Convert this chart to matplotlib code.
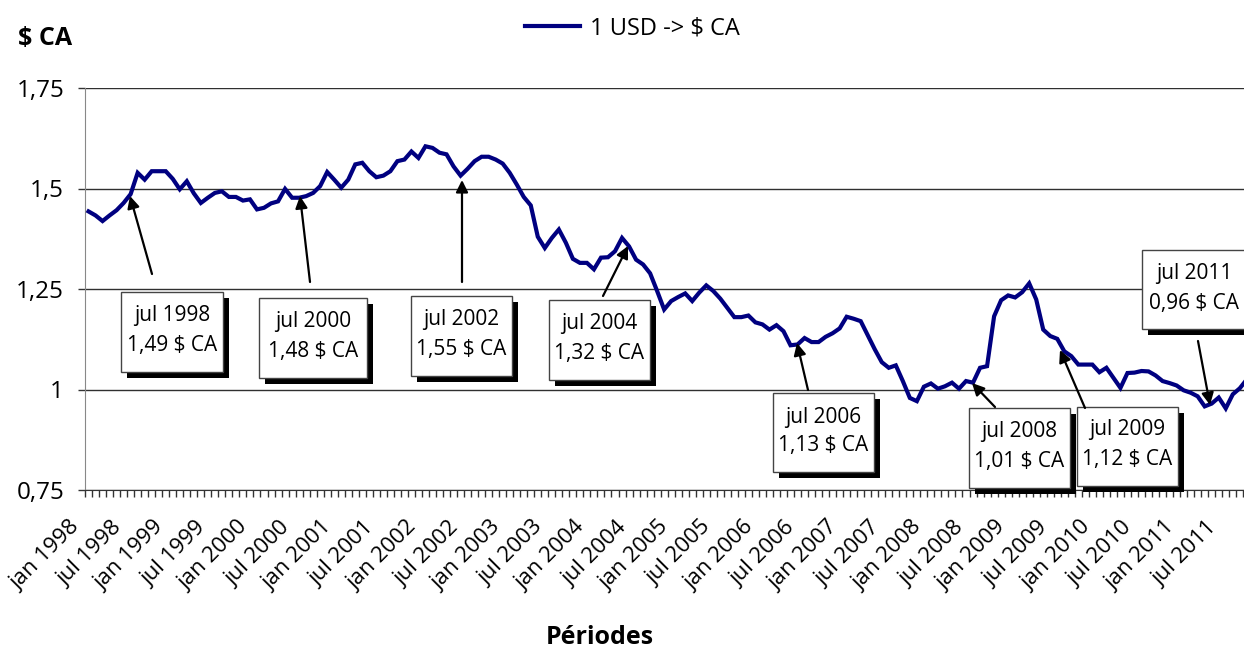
import matplotlib
matplotlib.use("Agg")
import matplotlib.pyplot as plt
import matplotlib.transforms as mtransforms
from matplotlib.patches import Rectangle
from matplotlib.ticker import FixedLocator

plt.rcParams['font.family'] = ['Open Sans', 'DejaVu Sans']

# taux mensuel 1 USD -> $ CA, jan 1998 ... oct 2011
taux = [1.443, 1.433, 1.419, 1.433, 1.446, 1.464, 1.486, 1.539, 1.522, 1.543, 1.543, 1.543,
        1.524, 1.498, 1.518, 1.488, 1.464, 1.477, 1.489, 1.493, 1.479, 1.479, 1.470, 1.473,
        1.448, 1.452, 1.463, 1.468, 1.499, 1.477, 1.477, 1.481, 1.489, 1.506, 1.541, 1.522,
        1.502, 1.522, 1.560, 1.564, 1.543, 1.528, 1.532, 1.543, 1.568, 1.572, 1.592, 1.576,
        1.605, 1.601, 1.589, 1.585, 1.555, 1.532, 1.549, 1.568, 1.579, 1.579, 1.572, 1.562,
        1.539, 1.510, 1.479, 1.458, 1.380, 1.352, 1.377, 1.398, 1.365, 1.325, 1.315, 1.315,
        1.299, 1.328, 1.329, 1.344, 1.377, 1.356, 1.323, 1.311, 1.289, 1.245, 1.199, 1.220,
        1.230, 1.239, 1.220, 1.241, 1.259, 1.245, 1.226, 1.203, 1.180, 1.180, 1.184, 1.167,
        1.162, 1.149, 1.160, 1.145, 1.110, 1.112, 1.128, 1.118, 1.118, 1.131, 1.140, 1.152,
        1.181, 1.176, 1.170, 1.135, 1.100, 1.068, 1.054, 1.060, 1.021, 0.979, 0.971, 1.007,
        1.015, 1.002, 1.008, 1.017, 1.002, 1.021, 1.017, 1.054, 1.058, 1.182, 1.222, 1.234,
        1.229, 1.242, 1.264, 1.224, 1.149, 1.133, 1.126, 1.095, 1.083, 1.062, 1.062, 1.062,
        1.043, 1.054, 1.029, 1.004, 1.041, 1.042, 1.046, 1.045, 1.035, 1.021, 1.016, 1.010,
        0.998, 0.992, 0.983, 0.958, 0.965, 0.980, 0.953, 0.988, 1.003, 1.025]

annees = list(range(1998, 2012))
etiquettes = [f"{m} {a}" for a in annees for m in ("jan", "jul")]

annot_mois = ["jul 1998", "jul 2000", "jul 2002", "jul 2004",
              "jul 2006", "jul 2008", "jul 2009", "jul 2011"]
annot_taux = ["1,49 $ CA", "1,48 $ CA", "1,55 $ CA", "1,32 $ CA",
              "1,13 $ CA", "1,01 $ CA", "1,12 $ CA", "0,96 $ CA"]

# box (left, top, right, bottom), line ys, arrow tail, arrow tip  -- pixel layout
boites = [
    ((121, 292, 223, 372), (316, 346), (152, 274), (130, 196)),
    ((259, 298, 367, 378), (322, 352), (310, 282), (300, 196)),
    ((411, 296, 512, 376), (319, 349), (462, 282), (462, 180)),
    ((549, 300, 650, 380), (324, 354), (603, 296), (628, 246)),
    ((773, 393, 874, 472), (417, 446), (808, 390), (797, 343)),
    ((969, 408, 1070, 488), (432, 462), (995, 407), (972, 383)),
    ((1077, 407, 1178, 486), (430, 460), (1085, 408), (1060, 350)),
    ((1142, 250, 1246, 329), (273, 303), (1198, 341), (1210, 405)),
]

W, H = 1244, 650
AX_L, AX_R, AX_T, AX_B = 85, 1244, 88, 490

fig = plt.figure(figsize=(W / 100, H / 100), dpi=100)
ax = fig.add_axes([AX_L / W, 1 - AX_B / H, (AX_R - AX_L) / W, (AX_B - AX_T) / H])


def frac(px, py):
    return ((px - AX_L) / (AX_R - AX_L), (AX_B - py) / (AX_B - AX_T))


x = list(range(len(taux)))
ax.plot(x, taux, color="#000080", lw=3.0, label="1 USD -> $ CA", zorder=3,
        solid_joinstyle="miter")

ax.set_xlim(-0.5, 164.6)
ax.set_ylim(0.75, 1.75)
ax.set_yticks([0.75, 1, 1.25, 1.5, 1.75])
ax.set_yticklabels(["0,75", "1", "1,25", "1,5", "1,75"], fontsize=17.5)
ax.yaxis.grid(True, color="#303030", lw=1.0)
ax.set_axisbelow(True)

# month ticks between categories, labels every 6 months drawn as text
ax.set_xticks([])
ax.xaxis.set_minor_locator(FixedLocator([i - 0.5 for i in range(len(taux) + 2)]))
ax.tick_params(axis="x", which="minor", length=5, width=1, color="#333333")
ax.tick_params(axis="y", length=5, width=1, color="#333333", pad=10)

trans_lab = mtransforms.blended_transform_factory(ax.transData, ax.transAxes) + \
    mtransforms.ScaledTranslation(-0.20, -0.27, fig.dpi_scale_trans)
for k, lab in enumerate(etiquettes):
    ax.text(6 * k, 0, lab, transform=trans_lab, rotation=45, ha="right",
            va="top", rotation_mode="anchor", fontsize=16, clip_on=False)

for s in ("top", "right"):
    ax.spines[s].set_visible(False)
ax.spines["left"].set_color("#888888")
ax.spines["bottom"].set_color("#333333")

for (mois, val, (bx, ly, tail, tip)) in zip(annot_mois, annot_taux, boites):
    l, t, r, b = bx
    x0, y0 = frac(l, b)
    x1, y1 = frac(r, t)
    sx, sy = frac(l + 6, b + 6)
    ax.add_patch(Rectangle((sx, sy), x1 - x0, y1 - y0, transform=ax.transAxes,
                           fc="black", ec="none", zorder=4, clip_on=False))
    ax.add_patch(Rectangle((x0, y0), x1 - x0, y1 - y0, transform=ax.transAxes,
                           fc="white", ec="#444444", lw=1, zorder=5, clip_on=False))
    cx = (l + r) / 2
    ax.text(*frac(cx, ly[0]), mois, transform=ax.transAxes, ha="center",
            va="center", fontsize=15, zorder=6, clip_on=False)
    ax.text(*frac(cx, ly[1]), val, transform=ax.transAxes, ha="center",
            va="center", fontsize=15, zorder=6, clip_on=False)
    ax.annotate("", xy=frac(*tip), xytext=frac(*tail), xycoords="axes fraction",
                textcoords="axes fraction",
                arrowprops=dict(arrowstyle="-|>", color="black", lw=1.6,
                                mutation_scale=18, shrinkA=0, shrinkB=0),
                zorder=6)

fig.legend(loc="center", bbox_to_anchor=(632 / W, 1 - 28 / H), frameon=False,
           fontsize=17, handlelength=2.35, handletextpad=0.4, borderpad=0)
fig.text(18 / W, 1 - 45 / H, "$ CA", ha="left", va="baseline",
         fontsize=18, fontweight="bold")
fig.text(600 / W, 1 - 650 / H, "Périodes", ha="center", va="bottom",
         fontsize=18, fontweight="bold")

fig.savefig("out.png", dpi=100)
